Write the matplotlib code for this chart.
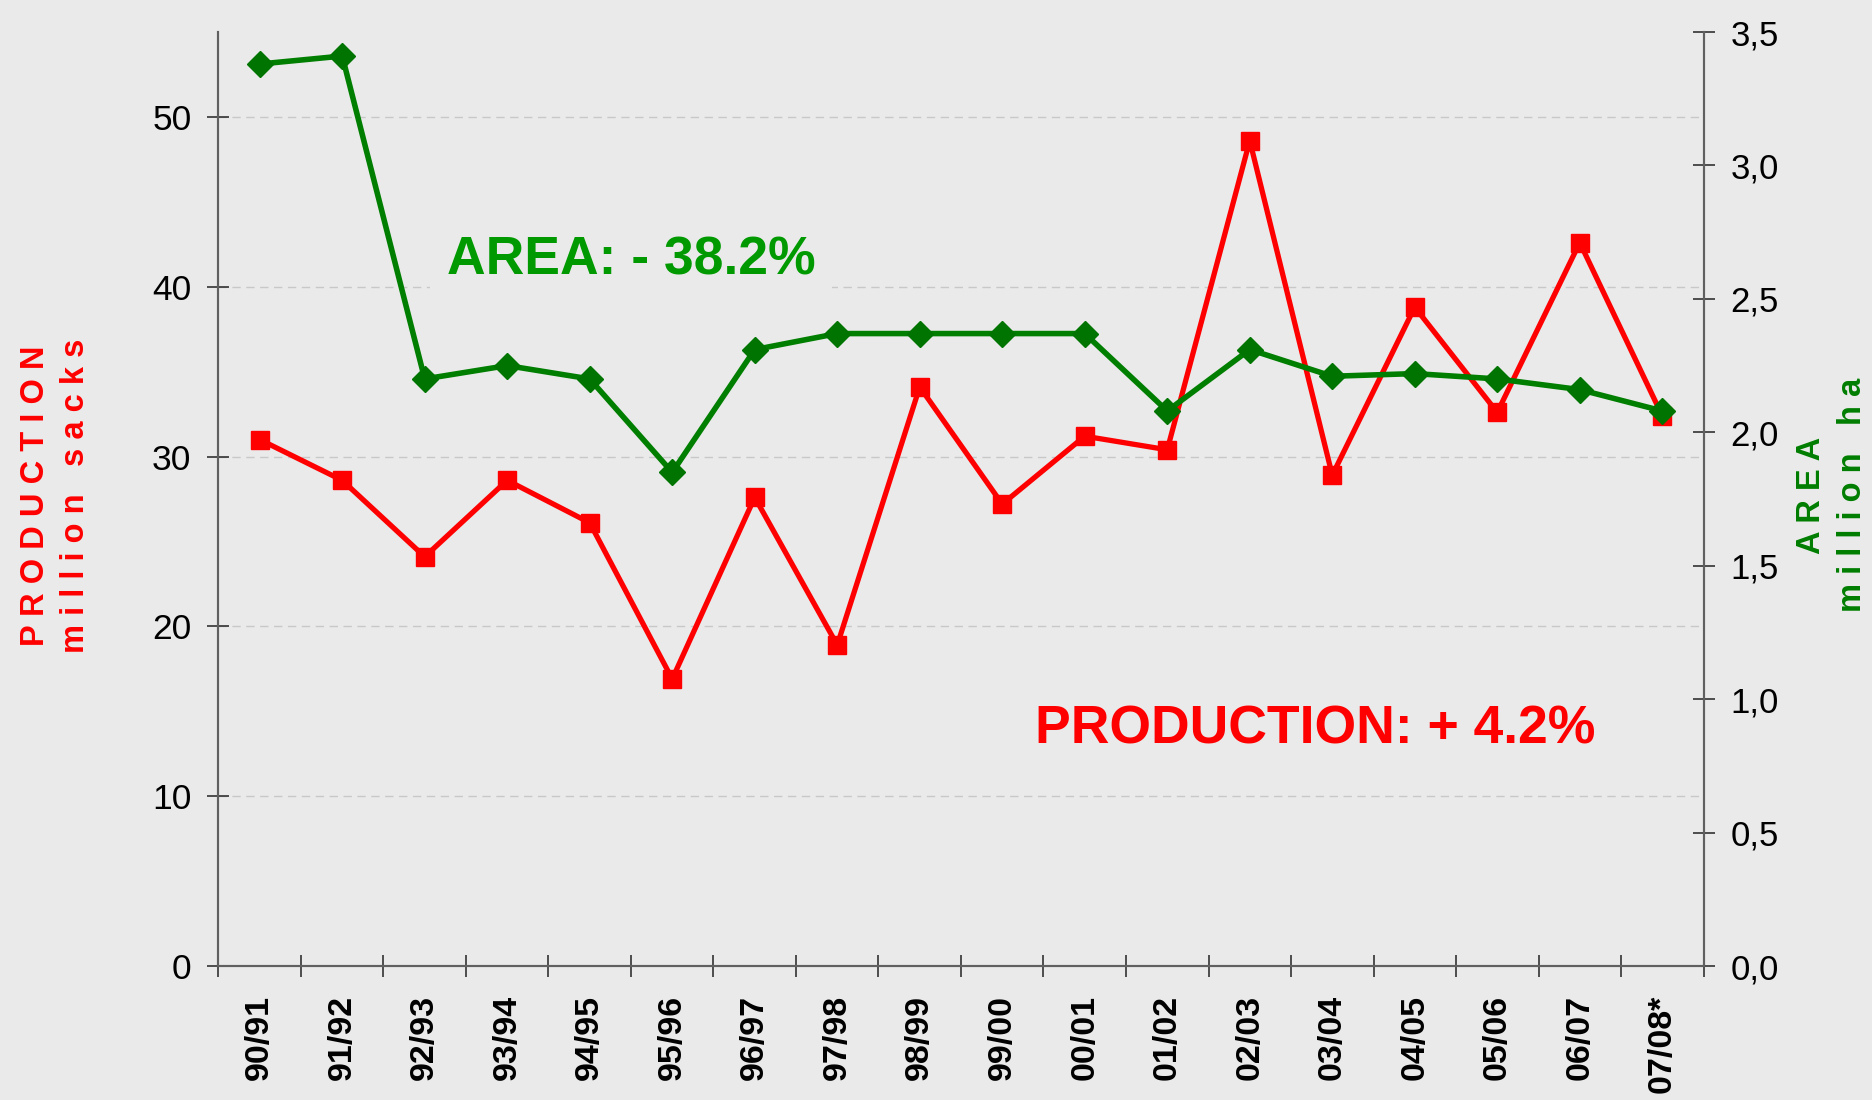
import matplotlib
matplotlib.use("Agg")
import matplotlib.pyplot as plt
import numpy as np
from matplotlib.ticker import FuncFormatter

plt.rcParams['font.family'] = ['Liberation Sans', 'DejaVu Sans']

seasons = ["90/91", "91/92", "92/93", "93/94", "94/95", "95/96", "96/97", "97/98",
           "98/99", "99/00", "00/01", "01/02", "02/03", "03/04", "04/05", "05/06",
           "06/07", "07/08*"]
production = [31.0, 28.6, 24.1, 28.6, 26.1, 16.9, 27.6, 18.9, 34.1, 27.2, 31.2,
              30.4, 48.6, 28.9, 38.8, 32.6, 42.6, 32.4]
area = [3.38, 3.41, 2.20, 2.25, 2.20, 1.85, 2.31, 2.37, 2.37, 2.37, 2.37, 2.08,
        2.31, 2.21, 2.22, 2.20, 2.16, 2.08]
left_ticks = [0, 10, 20, 30, 40, 50]
right_ticks = [0.0, 0.5, 1.0, 1.5, 2.0, 2.5, 3.0, 3.5]

BG = '#EAEAEA'
RED = '#FF0000'
GREEN = '#007E00'
GREEN_MK = '#007400'
GREEN_TXT = '#009A00'
SPINE = '#606060'

fig = plt.figure(figsize=(18.72, 11.0), dpi=100, facecolor=BG)
ax = fig.add_axes([0.1167, 0.1218, 0.7933, 0.8491])
ax.set_facecolor(BG)
ax2 = ax.twinx()

x = np.arange(len(seasons))
ax.plot(x, production, color=RED, lw=3.8, marker='s', ms=12.5, mec=RED, mfc=RED, zorder=3)
ax2.plot(x, area, color=GREEN, lw=4.0, marker='D', ms=13.5, mec=GREEN_MK, mfc=GREEN_MK, zorder=3)

ax.set_xlim(-0.5, len(seasons) - 0.5)
ax.set_ylim(0, 55)
ax2.set_ylim(0, 3.5)

ax.set_yticks(left_ticks)
ax.set_yticklabels([str(t) for t in left_ticks])
ax2.set_yticks(right_ticks)
ax2.yaxis.set_major_formatter(FuncFormatter(lambda v, p: f"{v:.1f}".replace('.', ',')))

ax.set_xticks(x)
ax.set_xticklabels(seasons, rotation=90, fontweight='bold', fontsize=24.5)
ax.set_xticks(np.arange(-0.5, len(seasons), 1.0), minor=True)
ax.tick_params(axis='x', which='major', length=0, pad=21)
ax.tick_params(axis='x', which='minor', direction='inout', length=16, width=1.2, color='#333333')
ax.tick_params(axis='y', which='major', direction='inout', length=16, width=1.2,
               color='#333333', labelsize=25.5, pad=11.5)
ax2.tick_params(axis='y', which='major', direction='inout', length=16, width=1.2,
                color='#333333', labelsize=25, pad=11.5)

for a in (ax, ax2):
    a.spines['top'].set_visible(False)
    for s in ('left', 'right', 'bottom'):
        a.spines[s].set_color(SPINE)
        a.spines[s].set_linewidth(1.5)

ax.yaxis.grid(True, color='#C8C8C8', linestyle=(0, (6, 4)), linewidth=1.0)
ax.set_axisbelow(True)

ax2.text(0.2778, 0.755, "AREA: - 38.2%", transform=ax.transAxes, ha='center', va='center',
         fontsize=38.5, fontweight='bold', color=GREEN_TXT,
         bbox=dict(facecolor=BG, edgecolor='none', pad=12))
ax2.text(0.7384, 0.253, "PRODUCTION: + 4.2%", transform=ax.transAxes, ha='center', va='center',
         fontsize=38.5, fontweight='bold', color=RED)

fig.text(0.0297, 0.549, "P R O D U C T I O N\nm i l l i o n   s a c k s", rotation=90,
         ha='center', va='center', multialignment='center', fontsize=23.5, fontweight='bold',
         color=RED, linespacing=1.4)
fig.text(0.9787, 0.55, "A R E A\nm i l l i o n   h a", rotation=90,
         ha='center', va='center', multialignment='center', fontsize=23.5, fontweight='bold',
         color=GREEN, linespacing=1.4)

fig.savefig("out.png", dpi=100, facecolor=BG)
